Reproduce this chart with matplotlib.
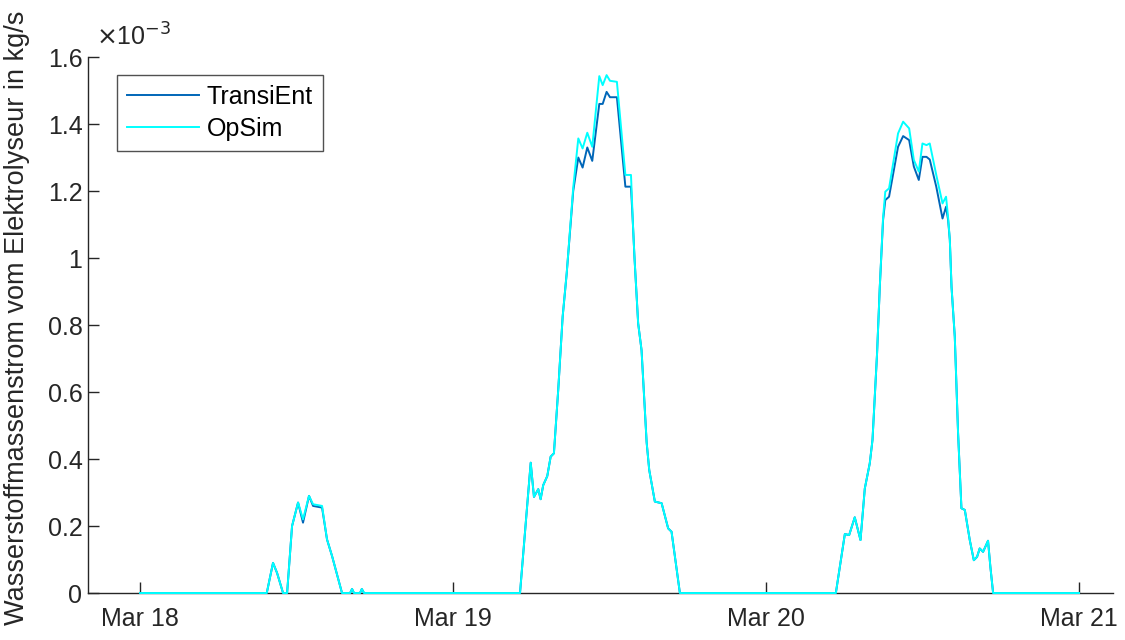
import numpy as np
import pandas as pd
import matplotlib.pyplot as plt
import matplotlib.dates as mdates
from matplotlib.ticker import FuncFormatter

plt.rcParams['font.family'] = ['Liberation Sans', 'DejaVu Sans']

# hours since Mar 18 00:00, values in 1e-3 kg/s
hours = [0, 9.71, 10.19, 10.5, 10.96, 11.27, 11.65, 12.11, 12.49, 12.95, 13.26, 13.95, 14.33, 14.72, 15.48,
         16.1, 16.25, 16.4, 16.86, 17.0, 17.17,
         29.13, 29.95, 30.2, 30.53, 30.71, 30.91, 31.22, 31.48, 31.73, 32.06, 32.4, 32.71, 33.21, 33.6, 33.93,
         34.29, 34.67, 35.21, 35.47, 35.77, 36.03, 36.56, 37.21, 37.64, 37.79, 37.91, 38.19, 38.45, 38.84,
         39.04, 39.47, 39.99, 40.49, 40.75, 41.39,
         53.35, 54.04, 54.37, 54.8, 55.24, 55.57, 55.95, 56.16, 56.51, 56.72, 56.97, 57.14, 57.43, 58.12,
         58.51, 58.97, 59.33, 59.71, 59.99, 60.3, 60.55, 61.05, 61.53, 61.8, 61.96, 62.09, 62.22, 62.47,
         62.72, 62.98, 63.24, 63.62, 63.93, 64.18, 64.38, 64.64, 65.02, 65.2, 65.41, 72]
transient = [0, 0, 0.09, 0.06, 0, 0, 0.2, 0.27, 0.21, 0.29, 0.26, 0.255, 0.16, 0.11, 0,
             0, 0.012, 0, 0, 0.012, 0,
             0, 0.389, 0.287, 0.31, 0.28, 0.322, 0.349, 0.407, 0.417, 0.606, 0.825, 0.954, 1.2, 1.3, 1.27,
             1.33, 1.29, 1.46, 1.46, 1.496, 1.48, 1.48, 1.213, 1.213, 1.1, 1.0, 0.805, 0.725, 0.45,
             0.367, 0.273, 0.268, 0.193, 0.183, 0,
             0, 0.176, 0.173, 0.226, 0.158, 0.312, 0.387, 0.457, 0.715, 0.914, 1.113, 1.173, 1.183, 1.332,
             1.364, 1.352, 1.273, 1.233, 1.302, 1.302, 1.294, 1.213, 1.118, 1.153, 1.113, 1.054, 0.914, 0.765,
             0.48, 0.253, 0.248, 0.158, 0.098, 0.108, 0.133, 0.123, 0.156, 0.078, 0, 0]
opsim = [0, 0, 0.09, 0.06, 0, 0, 0.2, 0.27, 0.22, 0.29, 0.265, 0.26, 0.16, 0.11, 0,
         0, 0.012, 0, 0, 0.012, 0,
         0, 0.389, 0.287, 0.31, 0.28, 0.322, 0.349, 0.407, 0.417, 0.606, 0.825, 0.954, 1.21, 1.357, 1.327,
         1.374, 1.332, 1.543, 1.516, 1.546, 1.529, 1.526, 1.248, 1.248, 1.1, 1.0, 0.805, 0.725, 0.45,
         0.367, 0.273, 0.268, 0.193, 0.183, 0,
         0, 0.176, 0.173, 0.226, 0.158, 0.312, 0.387, 0.457, 0.715, 0.914, 1.12, 1.198, 1.208, 1.372,
         1.407, 1.387, 1.293, 1.258, 1.342, 1.337, 1.342, 1.248, 1.163, 1.183, 1.12, 1.054, 0.914, 0.765,
         0.48, 0.253, 0.248, 0.158, 0.098, 0.108, 0.133, 0.123, 0.156, 0.078, 0, 0]

start = pd.Timestamp('2020-03-18')
t = start + pd.to_timedelta(hours, unit='h')
y_te = np.array(transient) * 1e-3
y_op = np.array(opsim) * 1e-3

fig = plt.figure(figsize=(11.25, 6.4), dpi=100)
ax = fig.add_axes([0.0782, 0.0734, 0.9111, 0.8375])

ax.plot(t, y_te, color='#0066b8', lw=1.4, label='TransiEnt', zorder=3, clip_on=False)
ax.plot(t, y_op, color='#00ffff', lw=1.4, label='OpSim', zorder=4, clip_on=False)

ax.set_xlim(start - pd.Timedelta(hours=4), start + pd.Timedelta(hours=74.6))
ax.set_ylim(0, 1.6e-3)
ax.set_xticks([start + pd.Timedelta(days=d) for d in range(4)])
ax.xaxis.set_major_formatter(mdates.DateFormatter('%b %d'))
ax.set_yticks(np.arange(0, 1.61e-3, 0.2e-3))
ax.yaxis.set_major_formatter(FuncFormatter(lambda v, p: f"{v * 1e3:g}"))

for s in ['top', 'right']:
    ax.spines[s].set_visible(False)
for s in ['left', 'bottom']:
    ax.spines[s].set_color('#262626')
    ax.spines[s].set_linewidth(1.0)
ax.tick_params(direction='in', length=8, width=1.0, colors='#262626', labelsize=18)
ax.tick_params(axis='x', pad=10)
ax.tick_params(axis='y', pad=4)

ax.set_ylabel('Wasserstoffmassenstrom vom Elektrolyseur in kg/s', fontsize=19.5, color='#262626')
ax.yaxis.set_label_coords(-0.0565, 0.513)
ax.text(0.008, 1.012, r'$\times$10$^{-3}$', transform=ax.transAxes, fontsize=18, color='#262626',
        ha='left', va='bottom')

leg = ax.legend(loc='upper left', bbox_to_anchor=(0.0283, 0.9664), fontsize=18, handlelength=2.9,
                frameon=True, fancybox=False, edgecolor='#262626', borderpad=0.4, labelspacing=0.3,
                handletextpad=0.3, borderaxespad=0)
leg.get_frame().set_linewidth(1.0)

fig.savefig('out.png', dpi=100)
